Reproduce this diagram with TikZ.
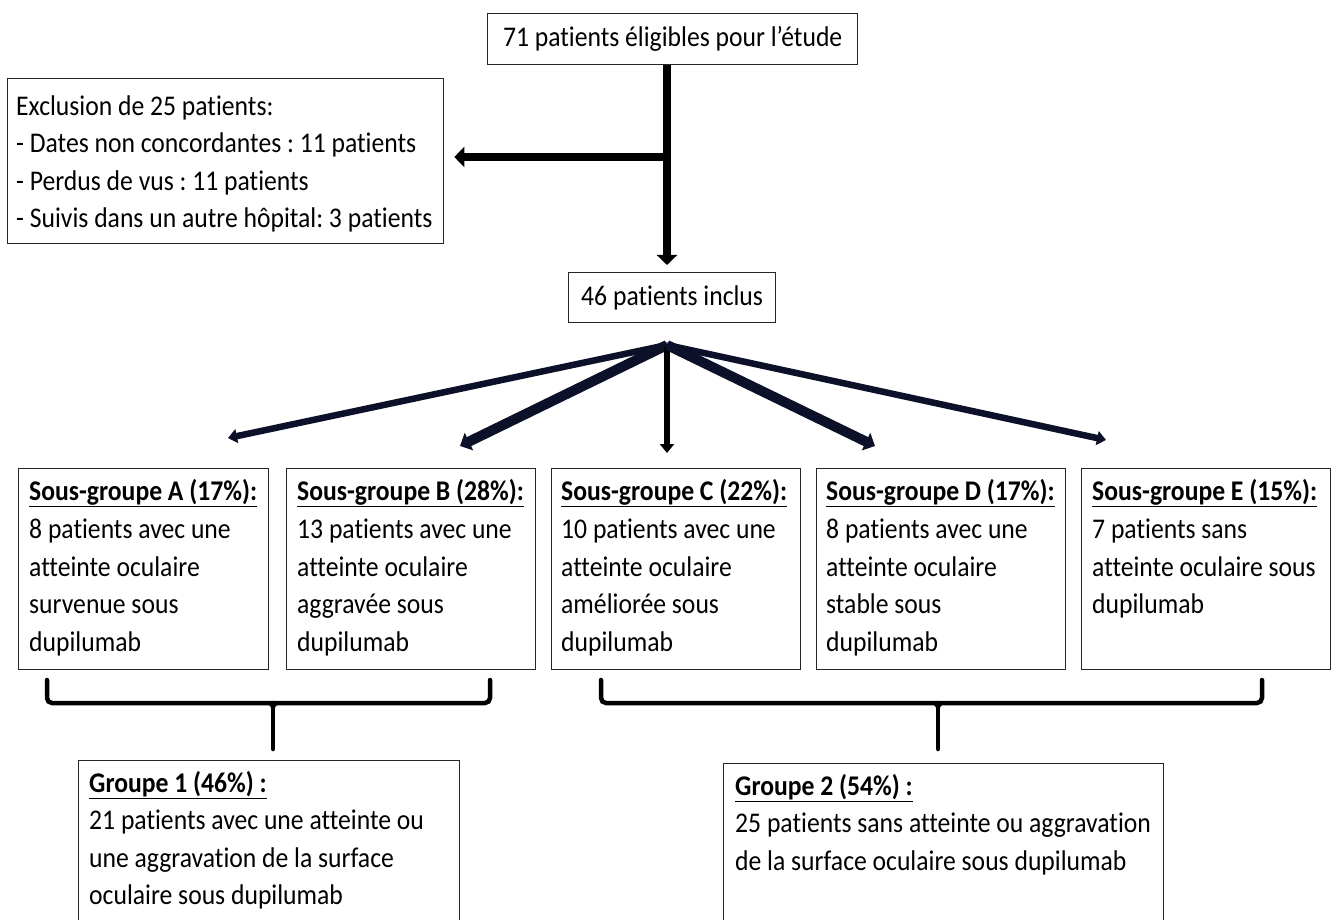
\documentclass[tikz,border=0pt]{standalone}
\usepackage{fontspec}
\setmainfont{Carlito}[FakeStretch=0.9, Ligatures=NoCommon]
\usetikzlibrary{arrows.meta,calc}
\newcommand\ulx[1]{\setbox0\hbox{#1}\rlap{\rule[-7pt]{\wd0}{1.7pt}}\box0}
\newcommand\fstrut{\rule{0pt}{26pt}}
\definecolor{fanc}{RGB}{12,16,40}
\frenchspacing
\begin{document}
\begin{tikzpicture}[x=1pt,y=-1pt,
  box/.style={draw=black!85, line width=1.3pt, inner sep=0pt, anchor=north west},
  cbox/.style={draw=black!85, line width=1.3pt, inner sep=0pt, anchor=north west, font=\fontsize{28.5}{37.5}\selectfont},
  txt/.style={inner sep=0pt, anchor=north west, align=left, font=\fontsize{28.5}{37.5}\selectfont},
  thick arrow/.style={draw=black, line width=7.5pt, -{Triangle[length=10pt,width=20pt]}},
  fan thin/.style={draw=fanc, line width=6.5pt, -{Triangle[length=9pt,width=14pt]}},
  fan thick/.style={draw=fanc, line width=10pt, -{Triangle[length=10pt,width=19pt]}},
  fan mid/.style={draw=black, line width=5.5pt, -{Triangle[length=9pt,width=14pt]}},
  brace/.style={draw=black, line width=4.5pt, rounded corners=5pt, line cap=round},
]
\useasboundingbox (0,0) rectangle (1331,920);
\clip (0,0) rectangle (1331,920);
\fill[white] (0,0) rectangle (1331,920);

% top boxes
\node[cbox, minimum width=370pt, minimum height=51pt] (top) at (487,13) {71 patients éligibles pour l’étude};
\node[box, minimum width=436pt, minimum height=165pt] (excl) at (7,78) {};
\node[txt] (exclt) at (16,89) {\fstrut Exclusion de 25 patients:\\- Dates non concordantes : 11 patients\\- Perdus de vus : 11 patients\\- Suivis dans un autre hôpital: 3 patients};
\node[cbox, minimum width=207pt, minimum height=50pt] (inc) at (568,272) {46 patients inclus};

% subgroup boxes
\node[box, minimum width=250pt, minimum height=201pt] (A) at (18,468) {};
\node[box, minimum width=249pt, minimum height=201pt] (B) at (286,468) {};
\node[box, minimum width=249pt, minimum height=201pt] (C) at (551,468) {};
\node[box, minimum width=249pt, minimum height=201pt] (D) at (816,468) {};
\node[box, minimum width=249pt, minimum height=201pt] (E) at (1081,468) {};

\node[txt] (At) at (29,474) {\fstrut\ulx{\bfseries Sous-groupe A (17\%):}\\[1pt]8 patients avec une\\atteinte oculaire\\survenue sous\\dupilumab};
\node[txt] (Bt) at (297,474) {\fstrut\ulx{\bfseries Sous-groupe B (28\%):}\\[1pt]13 patients avec une\\atteinte oculaire\\aggravée sous\\dupilumab};
\node[txt] (Ct) at (561,474) {\fstrut\ulx{\bfseries Sous-groupe C (22\%):}\\[1pt]10 patients avec une\\atteinte oculaire\\améliorée sous\\dupilumab};
\node[txt] (Dt) at (826,474) {\fstrut\ulx{\bfseries Sous-groupe D (17\%):}\\[1pt]8 patients avec une\\atteinte oculaire\\stable sous\\dupilumab};
\node[txt] (Et) at (1092,474) {\fstrut\ulx{\bfseries Sous-groupe E (15\%):}\\[1pt]7 patients sans\\atteinte oculaire sous\\dupilumab};

% group boxes
\node[box, minimum width=381pt, minimum height=200pt] (G1) at (78,760) {};
\node[txt] (G1t) at (89,766) {\fstrut\ulx{\bfseries Groupe 1 (46\%) :}\\[0pt]21 patients avec une atteinte ou\\une aggravation de la surface\\oculaire sous dupilumab};
\node[box, minimum width=440pt, minimum height=200pt] (G2) at (723,763) {};
\node[txt] (G2t) at (735,769) {\fstrut\ulx{\bfseries Groupe 2 (54\%) :}\\[0pt]25 patients sans atteinte ou aggravation\\de la surface oculaire sous dupilumab};

% connectors
\coordinate (j1) at (667,157);
\coordinate (fan) at (667,345);
\draw[thick arrow, shorten >=7pt] (top.south -| fan) -- (inc.north -| fan);
\draw[thick arrow, shorten >=10pt] ([xshift=3.75pt]j1) -- (excl.east |- j1);

\coordinate (tA) at (228,438);
\coordinate (tB) at (460,446);
\coordinate (tC) at (667,453);
\coordinate (tD) at (875,446);
\coordinate (tE) at (1106,440);
\draw[fan thin] (fan) -- (tA);
\draw[fan thick] (fan) -- (tB);
\draw[fan mid] ([yshift=-2pt]fan) -- (tC);
\draw[fan thick] (fan) -- (tD);
\draw[fan thin] (fan) -- (tE);

% braces
\coordinate (b1) at (273,703);
\coordinate (b2) at (938,703);
\draw[brace] (47,680) -- (47,703) -- (490,703) -- (490,680);
\draw[brace] (601,680) -- (601,703) -- (1262,703) -- (1262,680);
\draw[line width=2.5pt] (265,703) .. controls (271,703) and (273,706) .. (273,713);
\draw[line width=2.5pt] (281,703) .. controls (275,703) and (273,706) .. (273,713);
\draw[line width=2.5pt] (930,703) .. controls (936,703) and (938,706) .. (938,713);
\draw[line width=2.5pt] (946,703) .. controls (940,703) and (938,706) .. (938,713);
\draw[line width=4.5pt, line cap=round, shorten >=11pt] (b1) -- (G1.north -| b1);
\draw[line width=4.5pt, line cap=round, shorten >=14pt] (b2) -- (G2.north -| b2);
\end{tikzpicture}
\end{document}
